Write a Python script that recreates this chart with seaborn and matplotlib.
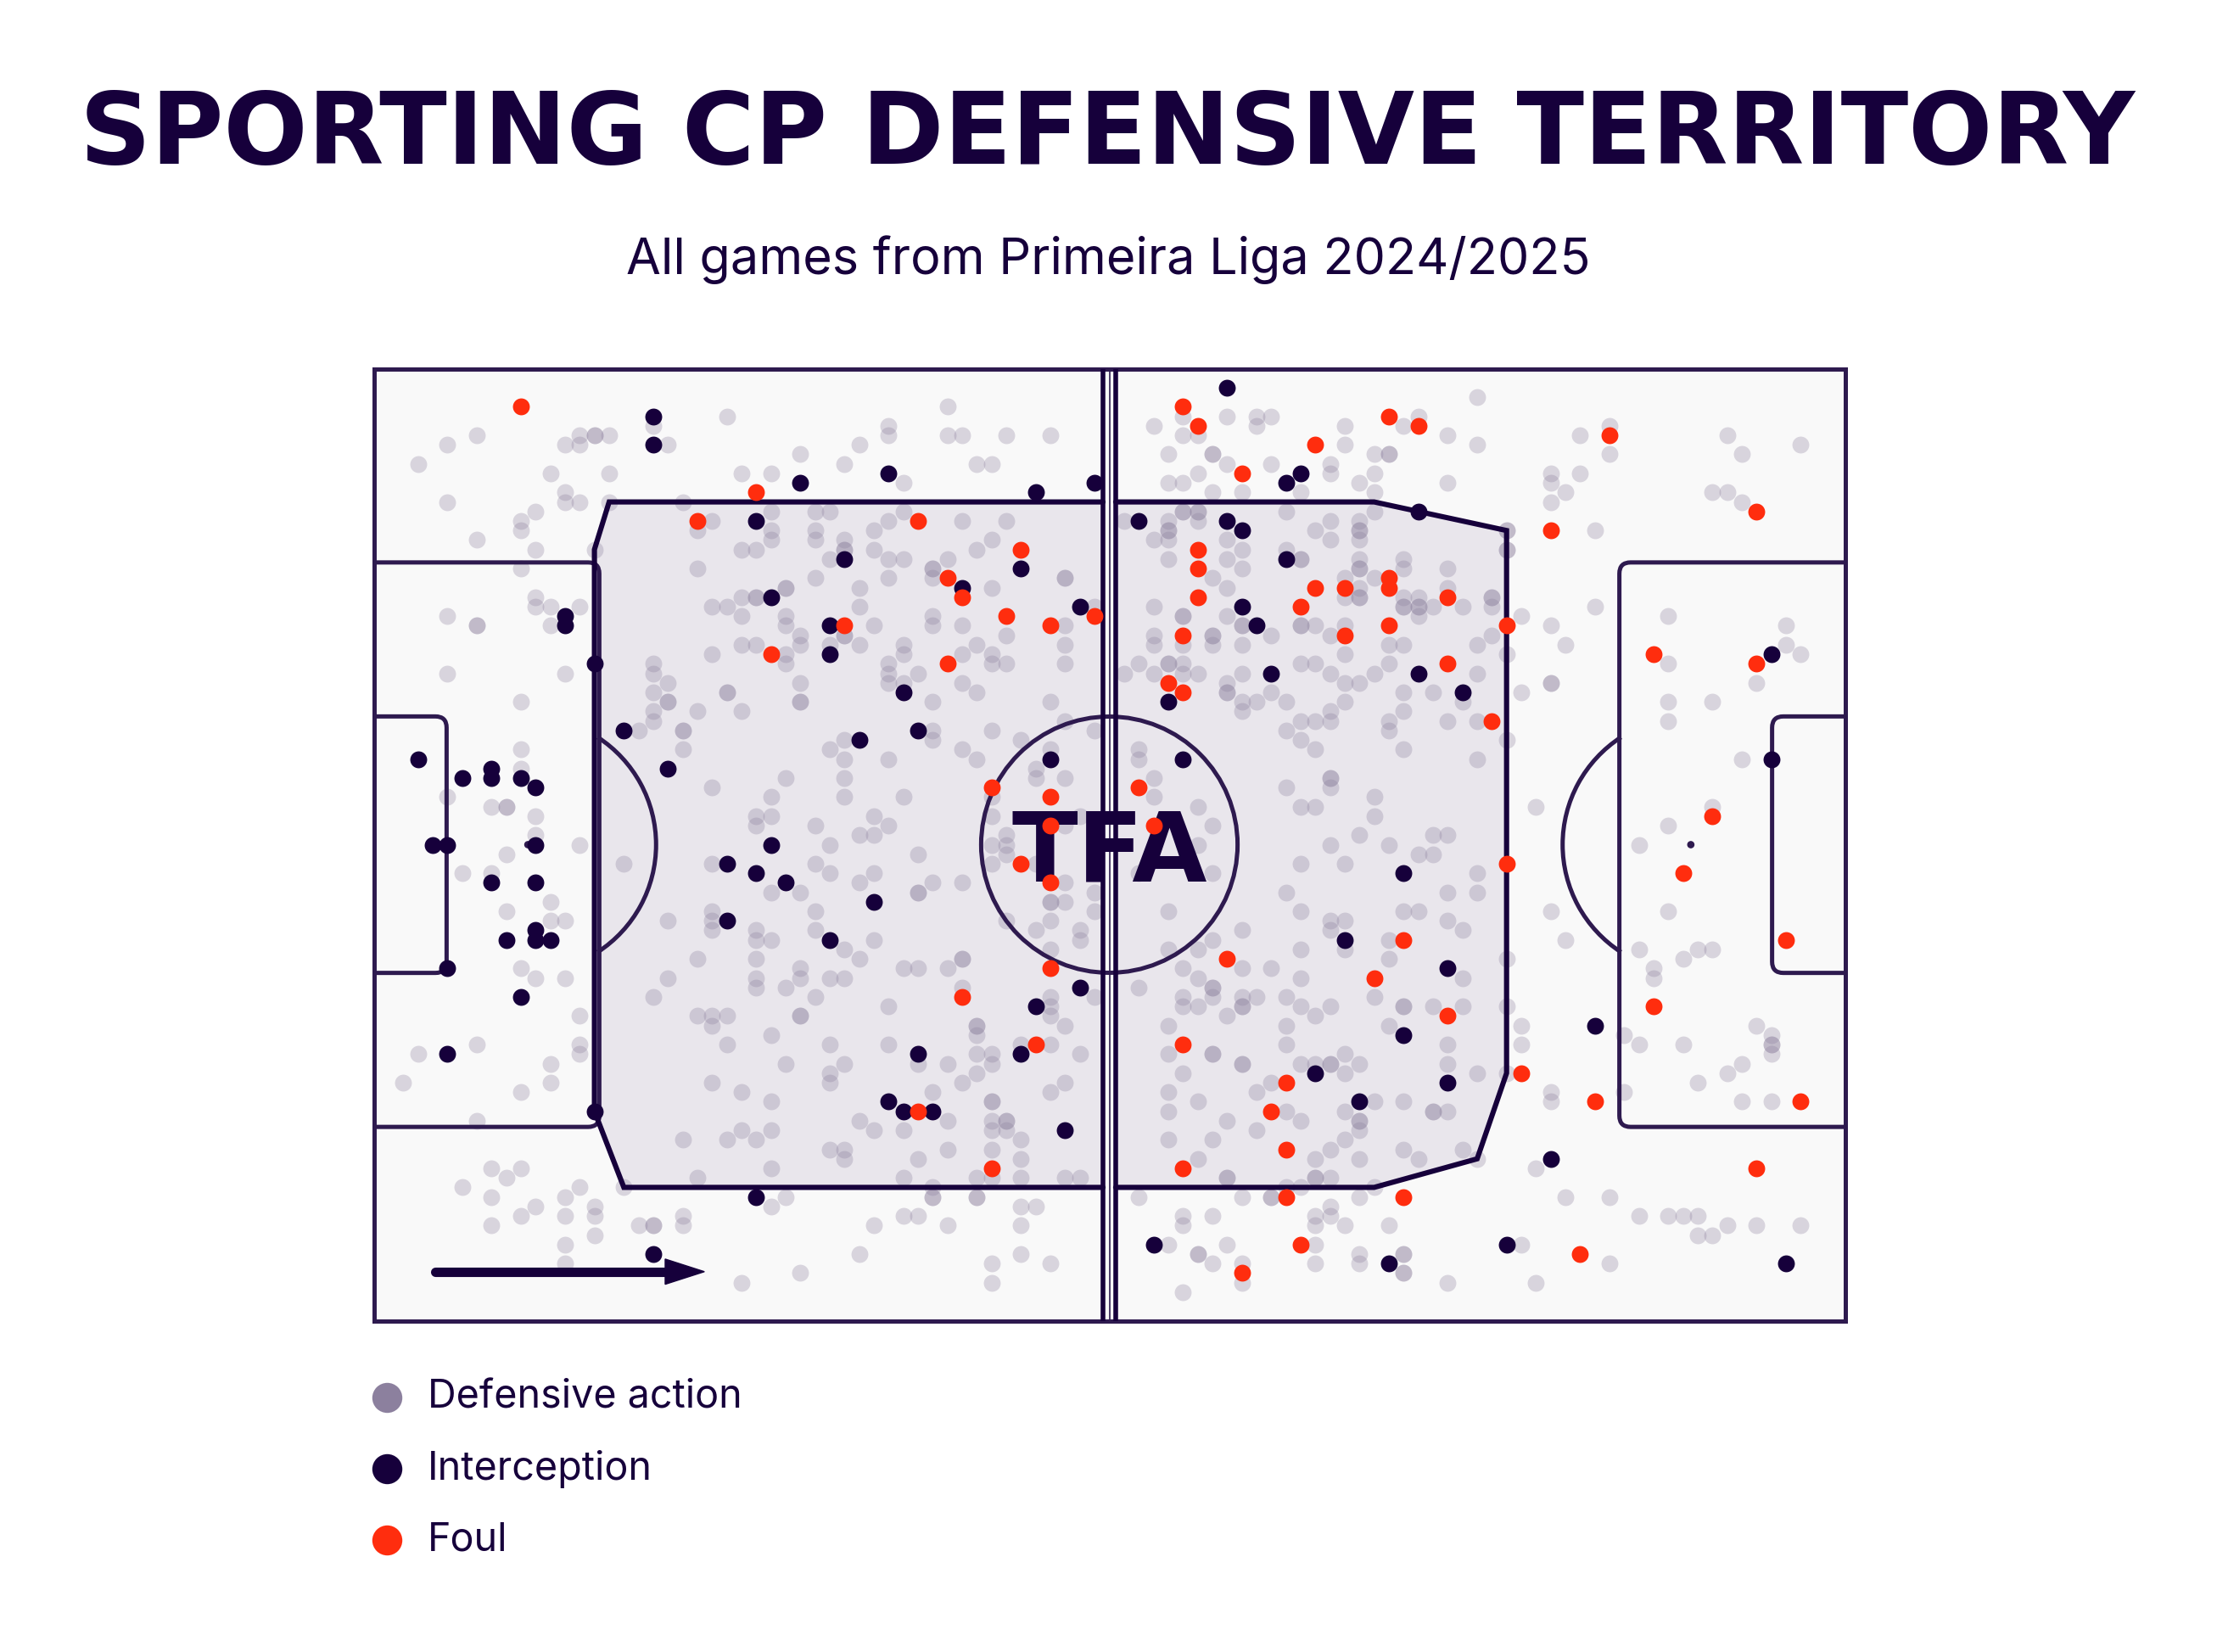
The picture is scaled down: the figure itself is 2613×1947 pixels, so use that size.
import matplotlib
matplotlib.use("Agg")
import matplotlib.pyplot as plt
from matplotlib.patches import Rectangle, Circle, Arc, Polygon, PathPatch
from matplotlib.path import Path
import pandas as pd
import seaborn as sns

# event locations on a 0-100 grid: x towards the attacked goal, y from the top touchline
defensive_pts = [
    (19, 6), (20, 8), (24, 5), (7, 7), (5, 8), (14, 7), (15, 7), (15, 7), (16, 7), (13, 8), (14, 8),
    (3, 10), (12, 11), (16, 11), (25, 11), (13, 13), (13, 14), (14, 14), (16, 14), (5, 14), (11, 15),
    (10, 16), (10, 17), (21, 14), (23, 16), (22, 17), (7, 18), (11, 19), (15, 19), (25, 19), (10, 21),
    (22, 21), (11, 24), (11, 25), (12, 25), (14, 25), (12, 27), (5, 26), (7, 27), (7, 27), (23, 25),
    (24, 25), (25, 24), (25, 26), (25, 29), (23, 30), (5, 32), (13, 32), (19, 31), (19, 32), (20, 33),
    (19, 34), (20, 35), (20, 35), (24, 34), (24, 34), (19, 36), (19, 37), (22, 36), (25, 36), (10, 35),
    (18, 38), (21, 38), (21, 38), (21, 40), (23, 44), (10, 40), (10, 42), (5, 45), (8, 46), (9, 46),
    (9, 46), (11, 47), (11, 49),
    (14, 50), (9, 51), (6, 53), (8, 53), (12, 56), (9, 57), (12, 58), (13, 58), (10, 63), (11, 64),
    (13, 64), (14, 68), (3, 72), (7, 71), (14, 71), (14, 72), (12, 73), (2, 75), (10, 76), (12, 75),
    (7, 79), (8, 84), (9, 85), (10, 84), (6, 86), (8, 87), (14, 86), (13, 87), (11, 88), (10, 89),
    (13, 89), (15, 88), (15, 89), (8, 90), (18, 90), (19, 90), (19, 90), (21, 89), (21, 90), (15, 91),
    (13, 92), (13, 94), (17, 86), (17, 52), (23, 52), (23, 57), (23, 58), (23, 59), (20, 58), (22, 62),
    (20, 64), (19, 66), (22, 68), (23, 68), (24, 68), (23, 69), (24, 71), (23, 75), (25, 76), (25, 80),
    (21, 81), (24, 81), (22, 85), (25, 96),
    (39, 4), (35, 6), (35, 7), (39, 7), (40, 7), (43, 7), (46, 7), (33, 8), (29, 9), (32, 10), (41, 10),
    (42, 10), (27, 11), (36, 12), (27, 15), (27, 17), (27, 18), (30, 15), (31, 15), (30, 17), (30, 18),
    (26, 19), (32, 18), (32, 19), (32, 19), (31, 20), (34, 17), (34, 19), (35, 16), (36, 15), (35, 20),
    (36, 20), (40, 16), (43, 16), (42, 18), (41, 19), (39, 20), (38, 21), (38, 21), (38, 22), (42, 23),
    (47, 22), (47, 22), (49, 25), (30, 22), (35, 22), (28, 23), (28, 23), (33, 23), (26, 24), (26, 24),
    (33, 25), (28, 26), (28, 27), (32, 28), (32, 28), (34, 27), (38, 26), (38, 27), (40, 27), (43, 28),
    (47, 27), (29, 28), (29, 29), (26, 29), (31, 29), (33, 29), (28, 30), (28, 31), (36, 29), (36, 30),
    (35, 31), (35, 32), (35, 33), (36, 33), (37, 32), (40, 30), (41, 29), (42, 30), (42, 31), (43, 31),
    (47, 29), (47, 31), (29, 33), (29, 35), (29, 35), (38, 35), (40, 33), (41, 34), (46, 35), (47, 37),
    (38, 38), (38, 39), (32, 39), (31, 40), (32, 41), (35, 41), (40, 40), (41, 41), (42, 38), (44, 39),
    (49, 38), (46, 40), (45, 42), (45, 43), (47, 43), (42, 45), (28, 43), (32, 43), (32, 45), (27, 45),
    (36, 45), (26, 47), (26, 48), (27, 47), (30, 48), (34, 47), (35, 48), (33, 49), (34, 49), (42, 47),
    (43, 49), (47, 48), (48, 47),
    (31, 50), (37, 51), (30, 52), (31, 53), (34, 53), (33, 54), (38, 54), (40, 54), (27, 55), (29, 55),
    (37, 55), (37, 55), (30, 57), (42, 50), (43, 50), (43, 51), (42, 52), (45, 52), (47, 54), (46, 56),
    (46, 56), (47, 56), (49, 55), (49, 57), (46, 58), (43, 58), (45, 59), (48, 59), (48, 60), (46, 61),
    (49, 66), (46, 66), (46, 67), (46, 68), (47, 69), (44, 71), (46, 71), (48, 72), (26, 59), (26, 60),
    (27, 60), (30, 59), (32, 61), (33, 62), (34, 60), (26, 62), (26, 64), (26, 65), (29, 63), (29, 64),
    (31, 64), (32, 64), (28, 65), (30, 66), (29, 68), (29, 68), (35, 67), (36, 63), (37, 63), (39, 63),
    (40, 62), (40, 62), (40, 65), (41, 69), (41, 69), (41, 70), (27, 70), (31, 71), (35, 71), (37, 73),
    (39, 73), (41, 72), (42, 72), (42, 73), (41, 74), (40, 75), (28, 73), (32, 73), (31, 74), (31, 75),
    (27, 77), (38, 76), (42, 77), (42, 77), (46, 76), (47, 75), (26, 81), (27, 80), (33, 79), (34, 80),
    (36, 80), (39, 79), (42, 79), (42, 80), (43, 79), (43, 79), (43, 80), (44, 81), (31, 82), (32, 82),
    (32, 83), (37, 83), (39, 82), (42, 82), (44, 83), (27, 84), (36, 85), (41, 85), (42, 85), (44, 85),
    (47, 85), (48, 85), (38, 86), (38, 87), (38, 87), (41, 87), (41, 87), (27, 88), (28, 87), (36, 89),
    (37, 89), (34, 90), (39, 90), (44, 88), (45, 88), (44, 90), (33, 93), (44, 93), (42, 94), (46, 94),
    (29, 95), (42, 96),
    (55, 5), (55, 7), (56, 7), (53, 6), (58, 5), (60, 5), (61, 5), (60, 6), (54, 9), (57, 9), (57, 9),
    (58, 10), (56, 11), (54, 12), (55, 12), (59, 13), (61, 10), (63, 13), (66, 6), (66, 8), (65, 10),
    (65, 11), (67, 12), (68, 9), (68, 11), (69, 9), (69, 9), (70, 6), (71, 5), (73, 7), (75, 3), (75, 8),
    (73, 12), (57, 13), (68, 13), (51, 16), (54, 16), (54, 17), (54, 17), (54, 18), (55, 15), (55, 15),
    (56, 15), (56, 15), (56, 16), (53, 18), (54, 20), (58, 18), (59, 19), (58, 20), (59, 21), (57, 22),
    (58, 23), (62, 15), (62, 19), (63, 20), (63, 20), (64, 17), (65, 16), (65, 18), (67, 16), (67, 17),
    (67, 17), (67, 18), (67, 20), (67, 21), (67, 21), (68, 15), (70, 20), (70, 21), (73, 21), (73, 23),
    (66, 22), (67, 23), (67, 24), (67, 24), (66, 24), (68, 22), (70, 24), (71, 24), (70, 25), (70, 25),
    (71, 25), (71, 25), (72, 25), (71, 26), (74, 25), (53, 25), (55, 26), (55, 26), (58, 26), (59, 27),
    (59, 27), (63, 27), (63, 27), (64, 27), (66, 27), (65, 28), (69, 29), (70, 29), (75, 29), (53, 28),
    (53, 29), (55, 29), (57, 28), (57, 28), (57, 29), (59, 29), (61, 28), (66, 30), (52, 31), (51, 32),
    (53, 32), (54, 31), (54, 31), (55, 31), (55, 32), (56, 32), (58, 33), (58, 34), (58, 34), (59, 32),
    (59, 35), (59, 36), (60, 35), (61, 34), (62, 35), (63, 31), (64, 31), (65, 32), (66, 33), (67, 33),
    (68, 32), (69, 31), (75, 32), (70, 34), (72, 34), (74, 35), (66, 35), (65, 36), (65, 37), (63, 37),
    (64, 37), (62, 38), (63, 39), (64, 40), (70, 36), (69, 37), (69, 38), (73, 37), (75, 37), (70, 40),
    (75, 41), (52, 40), (52, 41), (53, 43), (53, 45), (56, 46), (57, 48), (62, 44), (65, 43), (65, 43),
    (65, 44), (63, 46), (64, 46), (68, 45), (68, 47), (67, 49), (72, 49), (73, 49),
    (56, 50), (65, 50), (69, 50), (71, 51), (72, 51), (63, 52), (66, 52), (75, 53), (75, 55), (73, 55),
    (52, 53), (57, 53), (62, 55), (54, 57), (63, 57), (65, 58), (66, 58), (65, 59), (66, 61), (70, 57),
    (71, 57), (73, 58), (74, 59), (69, 60), (69, 62), (74, 64), (68, 66), (70, 67), (70, 67), (72, 67),
    (74, 67), (69, 69), (73, 71), (73, 73), (75, 74), (72, 78), (72, 78), (73, 78), (70, 77), (59, 59),
    (57, 60), (54, 61), (56, 61), (59, 63), (61, 63), (63, 61), (63, 64), (55, 63), (56, 64), (52, 65),
    (57, 65), (57, 65), (57, 66), (55, 66), (55, 67), (56, 67), (58, 68), (59, 66), (59, 67), (59, 67),
    (60, 66), (62, 66), (63, 67), (64, 68), (65, 67), (54, 69), (62, 69), (54, 72), (57, 72), (57, 72),
    (59, 73), (59, 73), (62, 71), (63, 73), (64, 73), (65, 73), (65, 73), (66, 72), (66, 74), (67, 73),
    (55, 74), (54, 76), (56, 77), (54, 78), (61, 75), (60, 76), (62, 78), (63, 79), (68, 77), (66, 78),
    (67, 79), (67, 79), (67, 80), (58, 79), (60, 80), (54, 81), (57, 81), (66, 81), (65, 82), (64, 83),
    (67, 83), (70, 82), (71, 83), (74, 82), (56, 83), (58, 85), (58, 85), (64, 85), (64, 85), (65, 85),
    (62, 86), (63, 86), (68, 86), (52, 87), (59, 87), (61, 87), (61, 87), (67, 87), (55, 89), (55, 90),
    (57, 89), (64, 89), (64, 90), (65, 88), (65, 89), (66, 90), (69, 90), (54, 92), (56, 93), (56, 93),
    (57, 94), (58, 92), (64, 92), (64, 94), (59, 94), (59, 96), (55, 97), (67, 93), (67, 94), (70, 93),
    (70, 93), (70, 95), (70, 95), (73, 96),
    (82, 7), (84, 6), (84, 9), (80, 11), (80, 12), (82, 11), (81, 13), (80, 14), (83, 17), (92, 7),
    (93, 9), (97, 8), (91, 13), (92, 13), (93, 14), (77, 17), (77, 17), (77, 19), (77, 19), (76, 24),
    (76, 24), (76, 25), (78, 26), (76, 28), (77, 30), (80, 27), (81, 29), (83, 25), (80, 33), (80, 33),
    (78, 34), (77, 39), (79, 46), (88, 26), (88, 31), (96, 27), (96, 29), (97, 30), (94, 33), (88, 35),
    (88, 37), (91, 35), (93, 41), (91, 46), (88, 48),
    (86, 50), (80, 57), (88, 57), (81, 60), (77, 62), (86, 61), (89, 62), (90, 61), (91, 61), (87, 63),
    (87, 64), (77, 67), (78, 69), (78, 71), (85, 70), (86, 71), (89, 71), (94, 69), (95, 70), (95, 71),
    (95, 71), (95, 72), (93, 73), (92, 74), (90, 75), (77, 74), (80, 76), (80, 77), (85, 76), (93, 77),
    (95, 77), (75, 83), (79, 84), (81, 87), (84, 87), (86, 89), (88, 89), (89, 89), (90, 89), (90, 91),
    (91, 91), (92, 90), (94, 90), (97, 90), (78, 92), (84, 94), (79, 96),
]

interception_pts = [
    (19, 5), (19, 8), (13, 26), (13, 27), (15, 31), (17, 38), (20, 42), (3, 41), (6, 43), (8, 42),
    (8, 43), (10, 43), (11, 44), (4, 50), (5, 50), (11, 50), (8, 54), (11, 54), (11, 59), (9, 60),
    (11, 60), (12, 60), (5, 63), (10, 66), (5, 72), (15, 78), (19, 93), (24, 52), (24, 58),
    (29, 12), (35, 11), (45, 13), (49, 12), (26, 16), (32, 20), (44, 21), (40, 23), (48, 25), (27, 24),
    (31, 27), (31, 30), (36, 34), (37, 38), (33, 39), (46, 41), (27, 50), (26, 53), (28, 54), (34, 56),
    (48, 65), (45, 67), (44, 72), (31, 60), (37, 72), (35, 77), (36, 78), (38, 78), (47, 80), (26, 87),
    (58, 2), (62, 12), (63, 11), (52, 16), (58, 16), (59, 17), (62, 20), (59, 25), (60, 27), (54, 35),
    (61, 32), (71, 32), (74, 34), (55, 41), (71, 15), (70, 53), (66, 60), (73, 63), (70, 70), (73, 75),
    (64, 74), (67, 77), (53, 92), (69, 94),
    (95, 30), (95, 41), (83, 69), (80, 83), (77, 92), (96, 94),
]

foul_pts = [
    (10, 4), (22, 16),
    (26, 13), (37, 16), (44, 19), (39, 22), (40, 24), (49, 26), (32, 27), (43, 26), (46, 27), (27, 30),
    (39, 31), (42, 44), (46, 45), (46, 48), (44, 52), (46, 54), (46, 63), (40, 66), (45, 71), (37, 78),
    (42, 84),
    (55, 4), (56, 6), (59, 11), (64, 8), (69, 5), (71, 6), (56, 19), (56, 21), (56, 24), (64, 23),
    (66, 23), (69, 22), (69, 23), (73, 24), (63, 25), (66, 28), (69, 27), (55, 28), (54, 33), (55, 34),
    (73, 31), (52, 44), (53, 48), (70, 60), (58, 62), (68, 64), (73, 68), (55, 71), (62, 75), (61, 78),
    (62, 82), (55, 84), (62, 87), (70, 87), (63, 92), (59, 95),
    (84, 7), (80, 17), (94, 15), (77, 27), (87, 30), (94, 31), (76, 37), (91, 47), (77, 52), (89, 53),
    (96, 60), (87, 67), (78, 74), (83, 77), (97, 77), (94, 84), (82, 93),
]

# outline of the defensive territory, same 0-100 grid
territory_left_x = [50, 16, 15, 15, 17, 50]
territory_left_y = [14, 14, 19, 78, 86, 86]
territory_right_x = [50, 68, 77, 77, 75, 68, 50]
territory_right_y = [14, 14, 17, 74, 83, 86, 86]

labels = ["Defensive action", "Interception", "Foul"]

PITCH_L, PITCH_W = 105, 68
DARK = "#16003b"
LINE = "#2e1a4f"
GREY = "#8c809e"
RED = "#ff2d0e"


def to_frame(pts):
    df = pd.DataFrame(pts, columns=["x", "y"])
    df["xm"] = df["x"] * PITCH_L / 100
    df["ym"] = df["y"] * PITCH_W / 100
    return df


def box_path(x0, depth, y1, y2, r):
    # box drawn from the goal line with rounded inner corners
    xb = x0 + depth
    s = 1 if depth > 0 else -1
    verts = [(x0, y1), (xb - s * r, y1), (xb, y1), (xb, y1 + r),
             (xb, y2 - r), (xb, y2), (xb - s * r, y2), (x0, y2)]
    codes = [Path.MOVETO, Path.LINETO, Path.CURVE3, Path.CURVE3,
             Path.LINETO, Path.CURVE3, Path.CURVE3, Path.LINETO]
    return Path(verts, codes)


sns.set_style("white")
plt.rcParams["font.family"] = ["Inter", "DejaVu Sans"]

W, H = 2613, 1947
fig = plt.figure(figsize=(W / 100, H / 100), dpi=100, facecolor="white")
ax = fig.add_axes([440.5 / W, 1 - 1556.5 / H, 1734 / W, 1122 / H])

# pitch
ax.add_patch(Rectangle((0, 0), PITCH_L, PITCH_W, facecolor="#f9f9f9", edgecolor="none", zorder=0))

# territory polygons (fill first, edges above the grey dots)
half_off = 0.45
for xs, ys, side in [(territory_left_x, territory_left_y, -1), (territory_right_x, territory_right_y, 1)]:
    xm = [52.5 + side * half_off if v == 50 else v * PITCH_L / 100 for v in xs]
    ym = [v * PITCH_W / 100 for v in ys]
    ax.add_patch(Polygon(list(zip(xm, ym)), closed=True, facecolor="#e9e6ec", edgecolor="none", zorder=1))
    ax.plot(xm, ym, color=DARK, lw=4.4, solid_joinstyle="miter", zorder=3.5)

lw = 3.6
kw = dict(color=LINE, lw=lw, zorder=3)
ax.add_patch(Rectangle((0, 0), PITCH_L, PITCH_W, fill=False, edgecolor=LINE, lw=lw, zorder=3, clip_on=False))
for x0, sgn in [(0, 1), (PITCH_L, -1)]:
    ax.add_patch(PathPatch(box_path(x0, sgn * 16.1, 13.84, 54.16, 0.8), fill=False, edgecolor=LINE, lw=lw, zorder=3))
    ax.add_patch(PathPatch(box_path(x0, sgn * 5.2, 24.84, 43.16, 0.8), fill=False, edgecolor=LINE, lw=lw, zorder=3))
    spot = x0 + sgn * 11
    ax.add_patch(Circle((spot, 34), 0.22, color=LINE, zorder=3))
    th1, th2 = (-57, 57) if sgn == 1 else (123, 237)
    ax.add_patch(Arc((spot, 34), 18.3, 18.3, theta1=th1, theta2=th2, color=LINE, lw=lw, zorder=2.9))
ax.add_patch(Circle((52.5, 34), 9.15, fill=False, edgecolor=LINE, lw=lw, zorder=3))
for cx, cy, a1 in [(0, 0, 270), (PITCH_L, 0, 180), (0, PITCH_W, 0), (PITCH_L, PITCH_W, 90)]:
    ax.add_patch(Arc((cx, cy), 3.5, 3.5, theta1=a1, theta2=a1 + 90, color=LINE, lw=lw, zorder=3))
# halfway: double line
ax.plot([52.5 - half_off] * 2, [0, PITCH_W], color=DARK, lw=4.0, zorder=3.5)
ax.plot([52.5 + half_off] * 2, [0, PITCH_W], color=DARK, lw=4.0, zorder=3.5)
ax.plot([52.5] * 2, [0, PITCH_W], color=LINE, lw=1.2, zorder=3.5)

# logo
ax.text(52.5, 36.6, "TFA", ha="center", va="baseline", fontsize=82, fontweight="heavy",
        family="DejaVu Sans", color=DARK, zorder=3.6)

# direction of play arrow
ax.plot([4.4, 21.2], [64.5, 64.5], color=DARK, lw=8, solid_capstyle="round", zorder=3)
ax.add_patch(Polygon([(20.8, 63.6), (23.6, 64.5), (20.8, 65.4)], closed=True, color=DARK, zorder=3))

# events
S = 205
df_def = to_frame(defensive_pts)
df_int = to_frame(interception_pts)
df_foul = to_frame(foul_pts)
sns.scatterplot(data=df_def, x="xm", y="ym", ax=ax, color=GREY, alpha=0.3, s=S, linewidth=0, zorder=2, legend=False)
sns.scatterplot(data=df_int, x="xm", y="ym", ax=ax, color=DARK, s=S, linewidth=0, zorder=4, legend=False)
sns.scatterplot(data=df_foul, x="xm", y="ym", ax=ax, color=RED, s=S, linewidth=0, zorder=4, legend=False)
ax.set_xlim(0, PITCH_L)
ax.set_ylim(PITCH_W, 0)
ax.axis("off")

# overlay in pixel coordinates for title and legend
ov = fig.add_axes([0, 0, 1, 1], zorder=5)
ov.set_xlim(0, W)
ov.set_ylim(H, 0)
ov.axis("off")
ov.patch.set_alpha(0)

title = ov.text(1305, 193, "SPORTING CP DEFENSIVE TERRITORY", ha="center", va="baseline",
                fontsize=80, fontweight="heavy", family="DejaVu Sans", color=DARK)
sub = ov.text(1306, 323, "All games from Primeira Liga 2024/2025", ha="center", va="baseline",
              fontsize=38, color=DARK)

leg_y = [1647, 1731, 1815]
leg_cols = [GREY, DARK, RED]
leg_txt = []
for yy, c, lab in zip(leg_y, leg_cols, labels):
    ov.scatter([456], [yy], s=650, color=c, linewidth=0)
    leg_txt.append(ov.text(504, yy + 13, lab, ha="left", va="baseline", fontsize=34, color=DARK))

renderer = fig.canvas.get_renderer()


def fit_width(t, target):
    w = t.get_window_extent(renderer).width
    t.set_fontsize(t.get_fontsize() * target / w)


fit_width(title, 2424)
fit_width(sub, 1137)
w0 = leg_txt[0].get_window_extent(renderer).width
for t in leg_txt:
    t.set_fontsize(t.get_fontsize() * 370 / w0)

fig.savefig("out.png", dpi=100, facecolor="white")
